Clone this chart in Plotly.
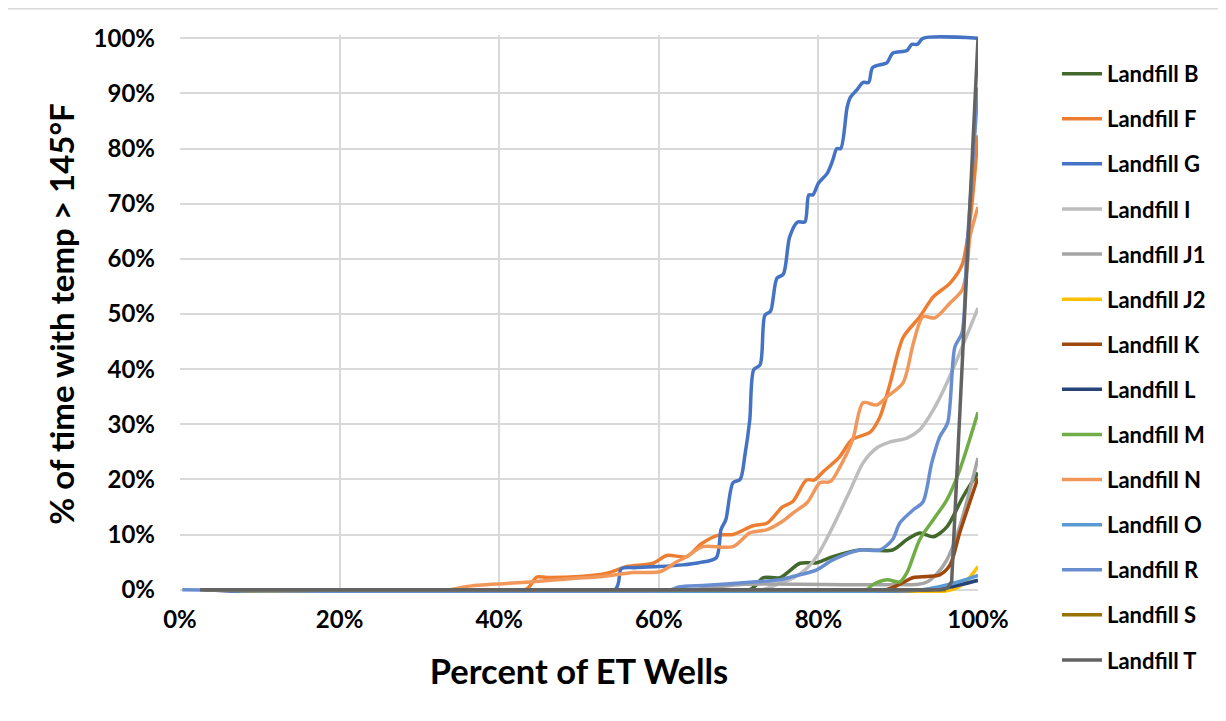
import plotly.graph_objects as go

# percent of ET wells (x) vs % of time with temp > 145F (y)
b_x = [3, 71.4, 73.1, 75.2, 77.7, 79.8, 81.8, 85.2, 89.3, 91.1, 92.7, 94.4, 96.1, 98.1, 100]
b_y = [0, 0, 2.2, 2.2, 4.8, 4.9, 6.0, 7.2, 7.2, 9.1, 10.3, 9.6, 11.4, 16.8, 21.2]

f_x = [3, 43.3, 44.7, 46.0, 50.1, 53.5, 56.0, 59.3, 61.0, 63.5, 65.3, 67.5, 69.3, 71.8,
       73.6, 75.5, 76.8, 78.5, 79.5, 80.6, 82.6, 84.2, 86.5, 87.7, 89.0, 90.6, 92.7,
       94.4, 96.5, 98.0, 99.0, 100]
f_y = [0, 0, 2.3, 2.2, 2.4, 3.0, 4.2, 4.8, 6.2, 6.0, 8.3, 9.9, 10.0, 11.6,
       12.1, 15.0, 16.0, 19.9, 19.9, 21.4, 24.0, 27.2, 28.6, 31.3, 37.5, 45.7, 49.5,
       53.1, 55.6, 58.9, 67.0, 82.4]

g_x = [3, 54.5, 55.3, 57, 60, 63, 65, 67.2, 67.8, 68.4, 69.3, 70.2, 70.8, 71.4, 71.9,
       72.7, 73.3, 74.0, 74.8, 75.6, 76.4, 77.4, 78.3, 78.8, 79.3, 80.0, 81.1, 81.8,
       82.3, 82.8, 83.6, 84.0, 84.8, 85.6, 86.3, 86.8, 88.6, 89.3, 91.1, 91.7, 92.4,
       93.1, 100]
g_y = [0, 0, 3.8, 4.0, 4.2, 4.5, 4.9, 5.8, 10.9, 12.7, 19.4, 20, 24.5, 30.8, 39.9,
       40.8, 49.8, 50.5, 56.5, 57.2, 64, 66.7, 66.7, 71.6, 71.6, 73.7, 75.5, 77.9,
       80, 80, 87.5, 89.3, 90.6, 92, 92, 94.7, 95.6, 97.3, 97.8, 98.9, 98.9,
       100, 100]

i_x = [3, 73.0, 75.2, 76.4, 78.5, 80.0, 81.8, 84.0, 85.6, 87.3, 89.0, 91.1, 92.7, 94.4, 96.1, 97.7, 100]
i_y = [0, 0, 1.2, 1.8, 3.8, 6.5, 11.4, 18.1, 23.0, 25.7, 26.8, 27.5, 29.0, 32.6, 37.5, 42.9, 51.1]

j1_x = [3, 64, 67, 71, 92.5, 93.6, 94.8, 96.1, 97.7, 100]
j1_y = [0, 0, 0.5, 1.0, 1.0, 1.4, 2.8, 5.4, 11.4, 23.9]

j2_x = [3, 96.8, 98.5, 100]
j2_y = [0, 0, 1.5, 4.2]

k_x = [3, 88.5, 90.2, 91.9, 93.6, 95.2, 96.5, 97.7, 100]
k_y = [0, 0, 1.0, 2.2, 2.4, 2.7, 4.5, 10.3, 20.3]

l_x = [3, 94, 96.5, 100]
l_y = [0, 0, 0.5, 1.7]

m_x = [3, 86.0, 86.8, 88.6, 90.2, 91.1, 92.7, 94.4, 96.1, 97.7, 100]
m_y = [0, 0, 0.9, 1.8, 1.4, 3.1, 9.1, 12.7, 16.3, 21.7, 32.2]

n_x = [3, 33.8, 36.0, 40.5, 43.9, 48.9, 53.0, 56.8, 60.2, 62.3, 63.5, 65.5, 69.3, 71.4,
       73.6, 75.6, 76.8, 78.6, 80.2, 81.5, 82.6, 84.3, 85.6, 87.3, 88.6, 90.6, 91.9,
       93.1, 94.6, 96.5, 98.0, 98.6, 99.0, 100]
n_y = [0, 0, 0.6, 1.1, 1.4, 2.0, 2.4, 3.1, 3.3, 5.1, 6.0, 7.8, 7.8, 10.3,
       10.9, 12.5, 13.9, 15.8, 19.4, 19.6, 22.0, 27.2, 33.9, 33.5, 35.0, 37.5, 44.7,
       49.5, 49.3, 52.0, 54.3, 58.0, 64.0, 69.4]

o_x = [3, 93, 95, 97.5, 100]
o_y = [0, 0, 0.5, 1.4, 2.6]

r_x = [0.3, 61.5, 62.5, 66, 71.8, 75.2, 76.8, 77.7, 79.8, 81.8, 85.2, 87.7, 89.3, 90.2,
       91.9, 93.1, 94.2, 95.2, 96.2, 97.1, 98.0, 98.6, 100]
r_y = [0, 0, 0.5, 0.8, 1.4, 1.8, 2.4, 2.7, 3.6, 5.4, 7.2, 7.2, 9.1, 12.1,
       14.5, 15.9, 23.0, 27.7, 30.3, 44.0, 46.6, 61.6, 91.1]

s_x = [3, 96]
s_y = [0, 0]

t_x = [2.5, 95.3, 96.2, 96.7, 100]
t_y = [0, 0, 0.3, 1.5, 100]

series = [
    ("Landfill B", b_x, b_y, "#43682B"),
    ("Landfill F", f_x, f_y, "#ED7D31"),
    ("Landfill G", g_x, g_y, "#4472C4"),
    ("Landfill I", i_x, i_y, "#BDBDBD"),
    ("Landfill J1", j1_x, j1_y, "#A5A5A5"),
    ("Landfill J2", j2_x, j2_y, "#FFC000"),
    ("Landfill K", k_x, k_y, "#9E480E"),
    ("Landfill L", l_x, l_y, "#264478"),
    ("Landfill M", m_x, m_y, "#70AD47"),
    ("Landfill N", n_x, n_y, "#F1975A"),
    ("Landfill O", o_x, o_y, "#5B9BD5"),
    ("Landfill R", r_x, r_y, "#698ED0"),
    ("Landfill S", s_x, s_y, "#997300"),
    ("Landfill T", t_x, t_y, "#636363"),
]

font = "Lato"

fig = go.Figure()
for name, xs, ys, color in series:
    # T is almost a vertical jump, a spline would dip below zero there
    shape = "linear" if name == "Landfill T" else "spline"
    fig.add_trace(
        go.Scatter(
            x=xs,
            y=ys,
            name=name,
            legendgroup=name,
            mode="lines",
            line=dict(color=color, width=3.5, shape=shape, smoothing=0.8),
        )
    )

# the page body adds 8px, so margins are shifted by that much
fig.update_layout(
    width=1226,
    height=721,
    plot_bgcolor="white",
    paper_bgcolor="white",
    font=dict(family=font, color="black"),
    margin=dict(l=172, r=256, t=27, b=136),
    showlegend=True,
    legend=dict(
        x=1.099,
        xanchor="left",
        y=0.968,
        yanchor="top",
        font=dict(family=font, size=22, weight="bold"),
        tracegroupgap=13.5,
        itemwidth=40,
        maxheight=700,
        bgcolor="rgba(0,0,0,0)",
    ),
    shapes=[
        dict(
            type="rect",
            xref="paper",
            yref="paper",
            x0=-0.2168,
            x1=1.33,
            y0=-0.26,
            y1=1.047,
            line=dict(color="#D9D9D9", width=1.5),
            layer="below",
        )
    ],
)

fig.update_xaxes(
    range=[0, 100],
    dtick=20,
    ticksuffix="%",
    showgrid=True,
    gridcolor="#D9D9D9",
    gridwidth=2,
    zeroline=False,
    showline=False,
    automargin=False,
    ticklabelstandoff=10,
    tickfont=dict(family=font, size=24, weight="bold"),
    title=dict(
        text="Percent of ET Wells",
        font=dict(family=font, size=34.5, weight="bold"),
        standoff=27,
    ),
)
fig.update_yaxes(
    range=[-0.6, 100.6],
    tick0=0,
    dtick=10,
    ticksuffix="%",
    showgrid=True,
    gridcolor="#D9D9D9",
    gridwidth=2,
    zeroline=False,
    showline=False,
    automargin=False,
    ticklabelstandoff=24,
    tickfont=dict(family=font, size=24, weight="bold"),
    title=dict(
        text="% of time with temp > 145°F",
        font=dict(family=font, size=33, weight="bold"),
        standoff=9,
    ),
)

fig.write_html("out.html")
